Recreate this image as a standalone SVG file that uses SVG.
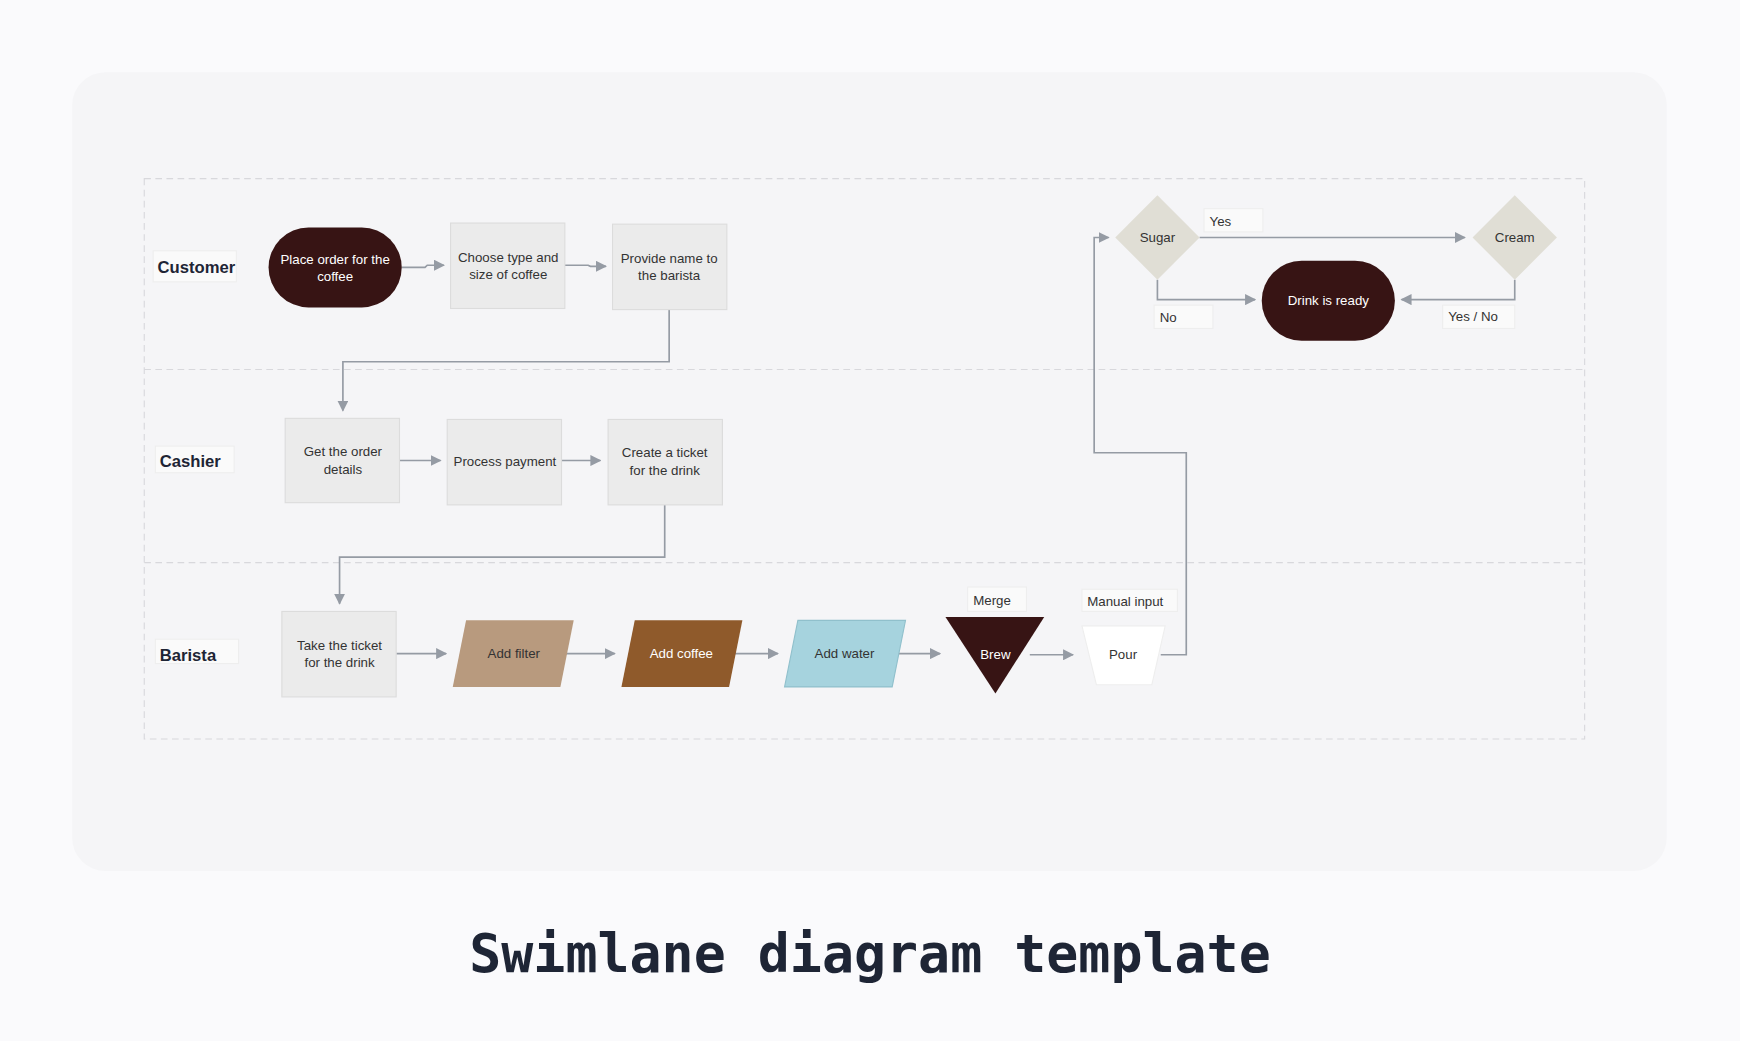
<svg xmlns="http://www.w3.org/2000/svg" width="1740" height="1041" viewBox="0 0 1740 1041">
<defs>
<marker id="ah" viewBox="0 0 10 10" refX="9" refY="5" markerWidth="10" markerHeight="10" markerUnits="userSpaceOnUse" orient="auto"><path d="M0,0 L10,5 L0,10 z" fill="#959ba4"/></marker>
<style>
.t{font-family:"Liberation Sans",Arial,sans-serif;font-size:12px;fill:#333;text-anchor:middle}
.w{fill:#fff}
.lane{font-family:"Liberation Sans",Arial,sans-serif;font-size:15px;font-weight:bold;fill:#1e2535}
.box{fill:#ebebeb;stroke:#dcdcdc}
.dark{fill:#371414}
.lb{fill:#fafafa;stroke:#eeeeee}
.c{fill:none;stroke:#959ba4;stroke-width:1.5;marker-end:url(#ah)}
</style>
</defs>
<rect width="1740" height="1041" fill="#fafafc"/>
<g transform="scale(1.1097)">
<rect x="65" y="65" width="1437" height="720" rx="30" fill="#f5f5f7"/>
<g id="lanes" fill="none" stroke="#d8d8dc" stroke-dasharray="6,4">
<rect x="130" y="161" width="1298" height="505"/>
<line x1="130" y1="333" x2="1428" y2="333"/>
<line x1="130" y1="507" x2="1428" y2="507"/>
</g>
<g id="lane-customer"><rect class="lb" x="138" y="226" width="75" height="28"/><text class="lane" x="142" y="246">Customer</text></g>
<g id="lane-cashier"><rect class="lb" x="140" y="402" width="71" height="24"/><text class="lane" x="144" y="421">Cashier</text></g>
<g id="lane-barista"><rect class="lb" x="140" y="576" width="75" height="22"/><text class="lane" x="144" y="596">Barista</text></g>

<g id="connectors">
<path class="c" d="M362,241 L383,241 L385,239 L400,239"/>
<path class="c" d="M509,239 L530,239 L532,240 L546,240"/>
<path class="c" d="M603,279 V326 H309 V370"/>
<path class="c" d="M360,415 H397"/>
<path class="c" d="M506,415 H541"/>
<path class="c" d="M599,455 V502 H306 V544"/>
<path class="c" d="M357,589 H402"/>
<path class="c" d="M510,589 H554"/>
<path class="c" d="M662,589 H701"/>
<path class="c" d="M809,589 H847"/>
<path class="c" d="M928,590 H967"/>
<path class="c" d="M1046,590 H1069 V408 H986 V214 H999"/>
<path class="c" d="M1081,214 H1320"/>
<path class="c" d="M1043,252 V270 H1131"/>
<path class="c" d="M1365,252 V270 H1263"/>
</g>

<g id="place"><rect class="dark" x="242" y="205" width="120" height="72" rx="36"/><text class="t w" x="302" y="238">Place order for the</text><text class="t w" x="302" y="253">coffee</text></g>
<g id="choose"><rect class="box" x="406" y="201" width="103" height="77"/><text class="t" x="458" y="236">Choose type and</text><text class="t" x="458" y="251">size of coffee</text></g>
<g id="provide"><rect class="box" x="552" y="202" width="103" height="77"/><text class="t" x="603" y="237">Provide name to</text><text class="t" x="603" y="252">the barista</text></g>
<g id="getorder"><rect class="box" x="257" y="377" width="103" height="76"/><text class="t" x="309" y="411">Get the order</text><text class="t" x="309" y="427">details</text></g>
<g id="payment"><rect class="box" x="403" y="378" width="103" height="77"/><text class="t" x="455" y="420">Process payment</text></g>
<g id="ticket"><rect class="box" x="548" y="378" width="103" height="77"/><text class="t" x="599" y="412">Create a ticket</text><text class="t" x="599" y="428">for the drink</text></g>
<g id="take"><rect class="box" x="254" y="551" width="103" height="77"/><text class="t" x="306" y="586">Take the ticket</text><text class="t" x="306" y="601">for the drink</text></g>
<g id="filter"><polygon points="420,559 517,559 505,619 408,619" fill="#b89a7e"/><text class="t" x="463" y="593">Add filter</text></g>
<g id="coffee"><polygon points="572,559 669,559 657,619 560,619" fill="#8f5a2b"/><text class="t w" x="614" y="593">Add coffee</text></g>
<g id="water"><polygon points="719,559 816,559 804,619 707,619" fill="#a6d3de" stroke="#90c0cc"/><text class="t" x="761" y="593">Add water</text></g>
<g id="merge"><rect class="lb" x="872" y="529" width="53" height="22"/><text class="t" x="894" y="545">Merge</text></g>
<g id="brew"><polygon points="852,556 941,556 897,625" class="dark"/><text class="t w" x="897" y="594">Brew</text></g>
<g id="manual"><rect class="lb" x="975" y="531" width="86" height="20"/><text class="t" x="1014" y="546">Manual input</text></g>
<g id="pour"><polygon points="975,564 1050,564 1038,617 988,617" fill="#fff" stroke="#eeeeee"/><text class="t" x="1012" y="594">Pour</text></g>
<g id="sugar"><polygon points="1043,176 1081,214 1043,252 1005,214" fill="#e0ded5"/><text class="t" x="1043" y="218">Sugar</text></g>
<g id="cream"><polygon points="1365,176 1403,214 1365,252 1327,214" fill="#e0ded5"/><text class="t" x="1365" y="218">Cream</text></g>
<g id="ready"><rect class="dark" x="1137" y="235" width="120" height="72" rx="36"/><text class="t w" x="1197" y="275">Drink is ready</text></g>
<g id="lbl-yes"><rect class="lb" x="1085" y="188" width="53" height="21"/><text class="t" x="1090" y="204" style="text-anchor:start">Yes</text></g>
<g id="lbl-no"><rect class="lb" x="1040" y="275" width="53" height="21"/><text class="t" x="1045" y="290" style="text-anchor:start">No</text></g>
<g id="lbl-yesno"><rect class="lb" x="1300" y="275" width="65" height="21"/><text class="t" x="1305" y="289" style="text-anchor:start">Yes / No</text></g>
<text x="784" y="876" text-anchor="middle" font-family="'DejaVu Sans Mono',monospace" font-weight="bold" font-size="48" fill="#1e2535">Swimlane diagram template</text>
</g>
</svg>
